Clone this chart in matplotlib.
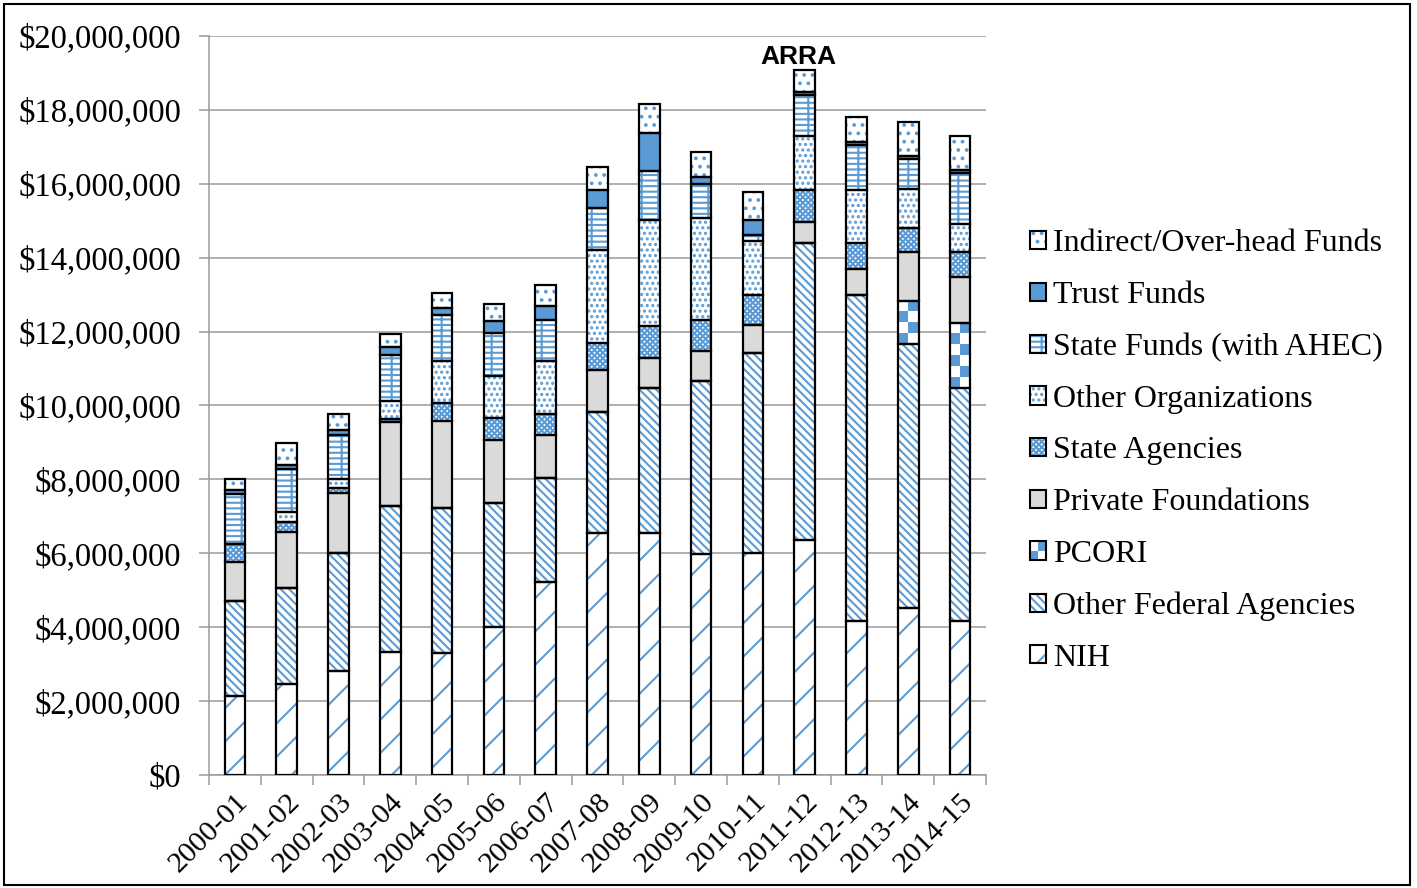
import matplotlib
matplotlib.use('Agg')
import matplotlib.pyplot as plt
import numpy as np
from matplotlib.patches import Patch, Rectangle
from matplotlib.colors import ListedColormap
from matplotlib.legend_handler import HandlerBase
from matplotlib.ticker import FuncFormatter

plt.rcParams['font.family'] = ['Liberation Serif', 'DejaVu Serif']
plt.rcParams['hatch.linewidth'] = 1.5

years = ['2000-01', '2001-02', '2002-03', '2003-04', '2004-05', '2005-06', '2006-07',
         '2007-08', '2008-09', '2009-10', '2010-11', '2011-12', '2012-13', '2013-14', '2014-15']

# values in millions of dollars, bottom to top of each bar
nih = [2.14, 2.46, 2.82, 3.34, 3.31, 4.00, 5.23, 6.54, 6.56, 5.98, 6.01, 6.35, 4.18, 4.53, 4.18]
other_federal = [2.58, 2.59, 3.18, 3.95, 3.91, 3.37, 2.80, 3.27, 3.92, 4.69, 5.41, 8.04, 8.80, 7.12, 6.28]
pcori = [0, 0, 0, 0, 0, 0, 0, 0, 0, 0, 0, 0, 0, 1.17, 1.76]
private_found = [1.05, 1.53, 1.64, 2.27, 2.37, 1.70, 1.16, 1.15, 0.80, 0.80, 0.76, 0.57, 0.71, 1.34, 1.27]
state_agencies = [0.47, 0.27, 0.12, 0.07, 0.49, 0.58, 0.58, 0.73, 0.88, 0.84, 0.80, 0.86, 0.70, 0.64, 0.67]
other_orgs = [0.0, 0.27, 0.24, 0.48, 1.11, 1.14, 1.44, 2.51, 2.86, 2.76, 1.47, 1.48, 1.43, 1.05, 0.76]
state_funds = [1.36, 1.15, 1.20, 1.25, 1.26, 1.18, 1.10, 1.15, 1.33, 0.92, 0.15, 1.11, 1.22, 0.83, 1.38]
trust_funds = [0.11, 0.11, 0.14, 0.21, 0.18, 0.31, 0.39, 0.48, 1.03, 0.18, 0.43, 0.08, 0.09, 0.07, 0.06]
indirect = [0.30, 0.61, 0.43, 0.37, 0.41, 0.46, 0.57, 0.62, 0.78, 0.70, 0.76, 0.58, 0.68, 0.93, 0.92]

blue = '#5b9bd5'
bs = chr(92)
series = [
    ('NIH', nih, 'white', '/'),
    ('Other Federal Agencies', other_federal, 'white', bs * 4),
    ('PCORI', pcori, None, None),
    ('Private Foundations', private_found, '#dadada', None),
    ('State Agencies', state_agencies, 'white', 'xxxxxx'),
    ('Other Organizations', other_orgs, 'white', '...'),
    ('State Funds (with AHEC)', state_funds, 'white', '---|'),
    ('Trust Funds', trust_funds, blue, None),
    ('Indirect/Over-head Funds', indirect, 'white', '..'),
]

fig = plt.figure(figsize=(14.17, 8.88), dpi=100)
ax = fig.add_axes([0.1475, 0.1273, 0.5483, 0.8322])

x = np.arange(len(years))
w = 0.4
bottom = np.zeros(len(years))
checker = ListedColormap(['white', blue])
handles = []
for name, vals, face, hatch in series:
    v = np.array(vals) * 1e6
    if face is None:
        # checkerboard segments
        for i in range(len(v)):
            if v[i] > 0:
                rows = max(1, int(round(vals[i] / 0.29)))
                grid = np.indices((rows, 2)).sum(axis=0) % 2
                ax.imshow(grid, cmap=checker, interpolation='nearest', aspect='auto',
                          extent=(x[i] - w / 2, x[i] + w / 2, bottom[i], bottom[i] + v[i]),
                          zorder=2)
        handles.append(('checker', name))
    else:
        ax.bar(x, v, w, bottom=bottom, color=face, hatch=hatch,
               edgecolor=blue if hatch else face, linewidth=0, zorder=2)
        hp = Patch(facecolor=face, hatch=hatch, edgecolor=blue if hatch else face, linewidth=0)
        op = Patch(fill=False, edgecolor='black', linewidth=1.5)
        handles.append(((hp, op), name))
    ax.bar(x, v, w, bottom=bottom, fill=False, edgecolor='black', linewidth=1.6, zorder=3)
    bottom = bottom + v

totals = bottom
ax.text(10.88, totals[11] + 0.03e6, 'ARRA', ha='center', va='bottom', fontsize=19,
        fontweight='bold', family='Liberation Sans')

ax.set_xlim(-0.5, len(years) - 0.5)
ax.set_ylim(0, 20e6)
ax.set_yticks(np.arange(0, 20e6 + 1, 2e6))
ax.yaxis.set_major_formatter(FuncFormatter(lambda v, p: '${:,.0f}'.format(v)))
ax.grid(axis='y', color='#9a9a9a', linewidth=1.1)
ax.set_axisbelow(True)
for s in ['top', 'right']:
    ax.spines[s].set_visible(False)
for s in ['left', 'bottom']:
    ax.spines[s].set_color('#9a9a9a')
    ax.spines[s].set_linewidth(1.1)

ax.set_xticks(x)
ax.set_xticklabels(years, rotation=45, ha='right', rotation_mode='anchor')
ax.set_xticks(np.arange(-0.5, len(years), 1), minor=True)
ax.tick_params(axis='x', which='major', length=0, pad=10, labelsize=21.5)
ax.tick_params(axis='x', which='minor', length=7, color='#9a9a9a', width=1.1)
ax.tick_params(axis='y', length=7, color='#9a9a9a', width=1.1, pad=13, labelsize=23.5)


class CheckerHandler(HandlerBase):
    def create_artists(self, legend, orig_handle, xdescent, ydescent, width, height, fontsize, trans):
        x0, y0 = -xdescent, -ydescent
        arts = [Rectangle((x0, y0), width, height, facecolor='white', edgecolor='none', transform=trans),
                Rectangle((x0 + width / 2, y0 + height / 2), width / 2, height / 2,
                          facecolor=blue, edgecolor='none', transform=trans),
                Rectangle((x0, y0), width / 2, height / 2, facecolor=blue, edgecolor='none', transform=trans),
                Rectangle((x0, y0), width, height, fill=False, edgecolor='black', linewidth=1.5,
                          transform=trans)]
        return arts


leg_handles = []
leg_labels = []
pc = Patch()
for h, name in handles[::-1]:
    leg_handles.append(pc if h == 'checker' else h)
    leg_labels.append(name)

fig.legend(leg_handles, leg_labels, loc='center left', bbox_to_anchor=(0.718, 0.492),
           frameon=False, fontsize=23, handlelength=0.5, handleheight=0.5,
           handletextpad=0.22, labelspacing=0.71, borderaxespad=0,
           handler_map={pc: CheckerHandler()})

fig.patches.append(Rectangle((0.003, 0.003), 0.992, 0.992, transform=fig.transFigure,
                             fill=False, edgecolor='black', linewidth=1.5))

fig.savefig('out.png', dpi=100)
